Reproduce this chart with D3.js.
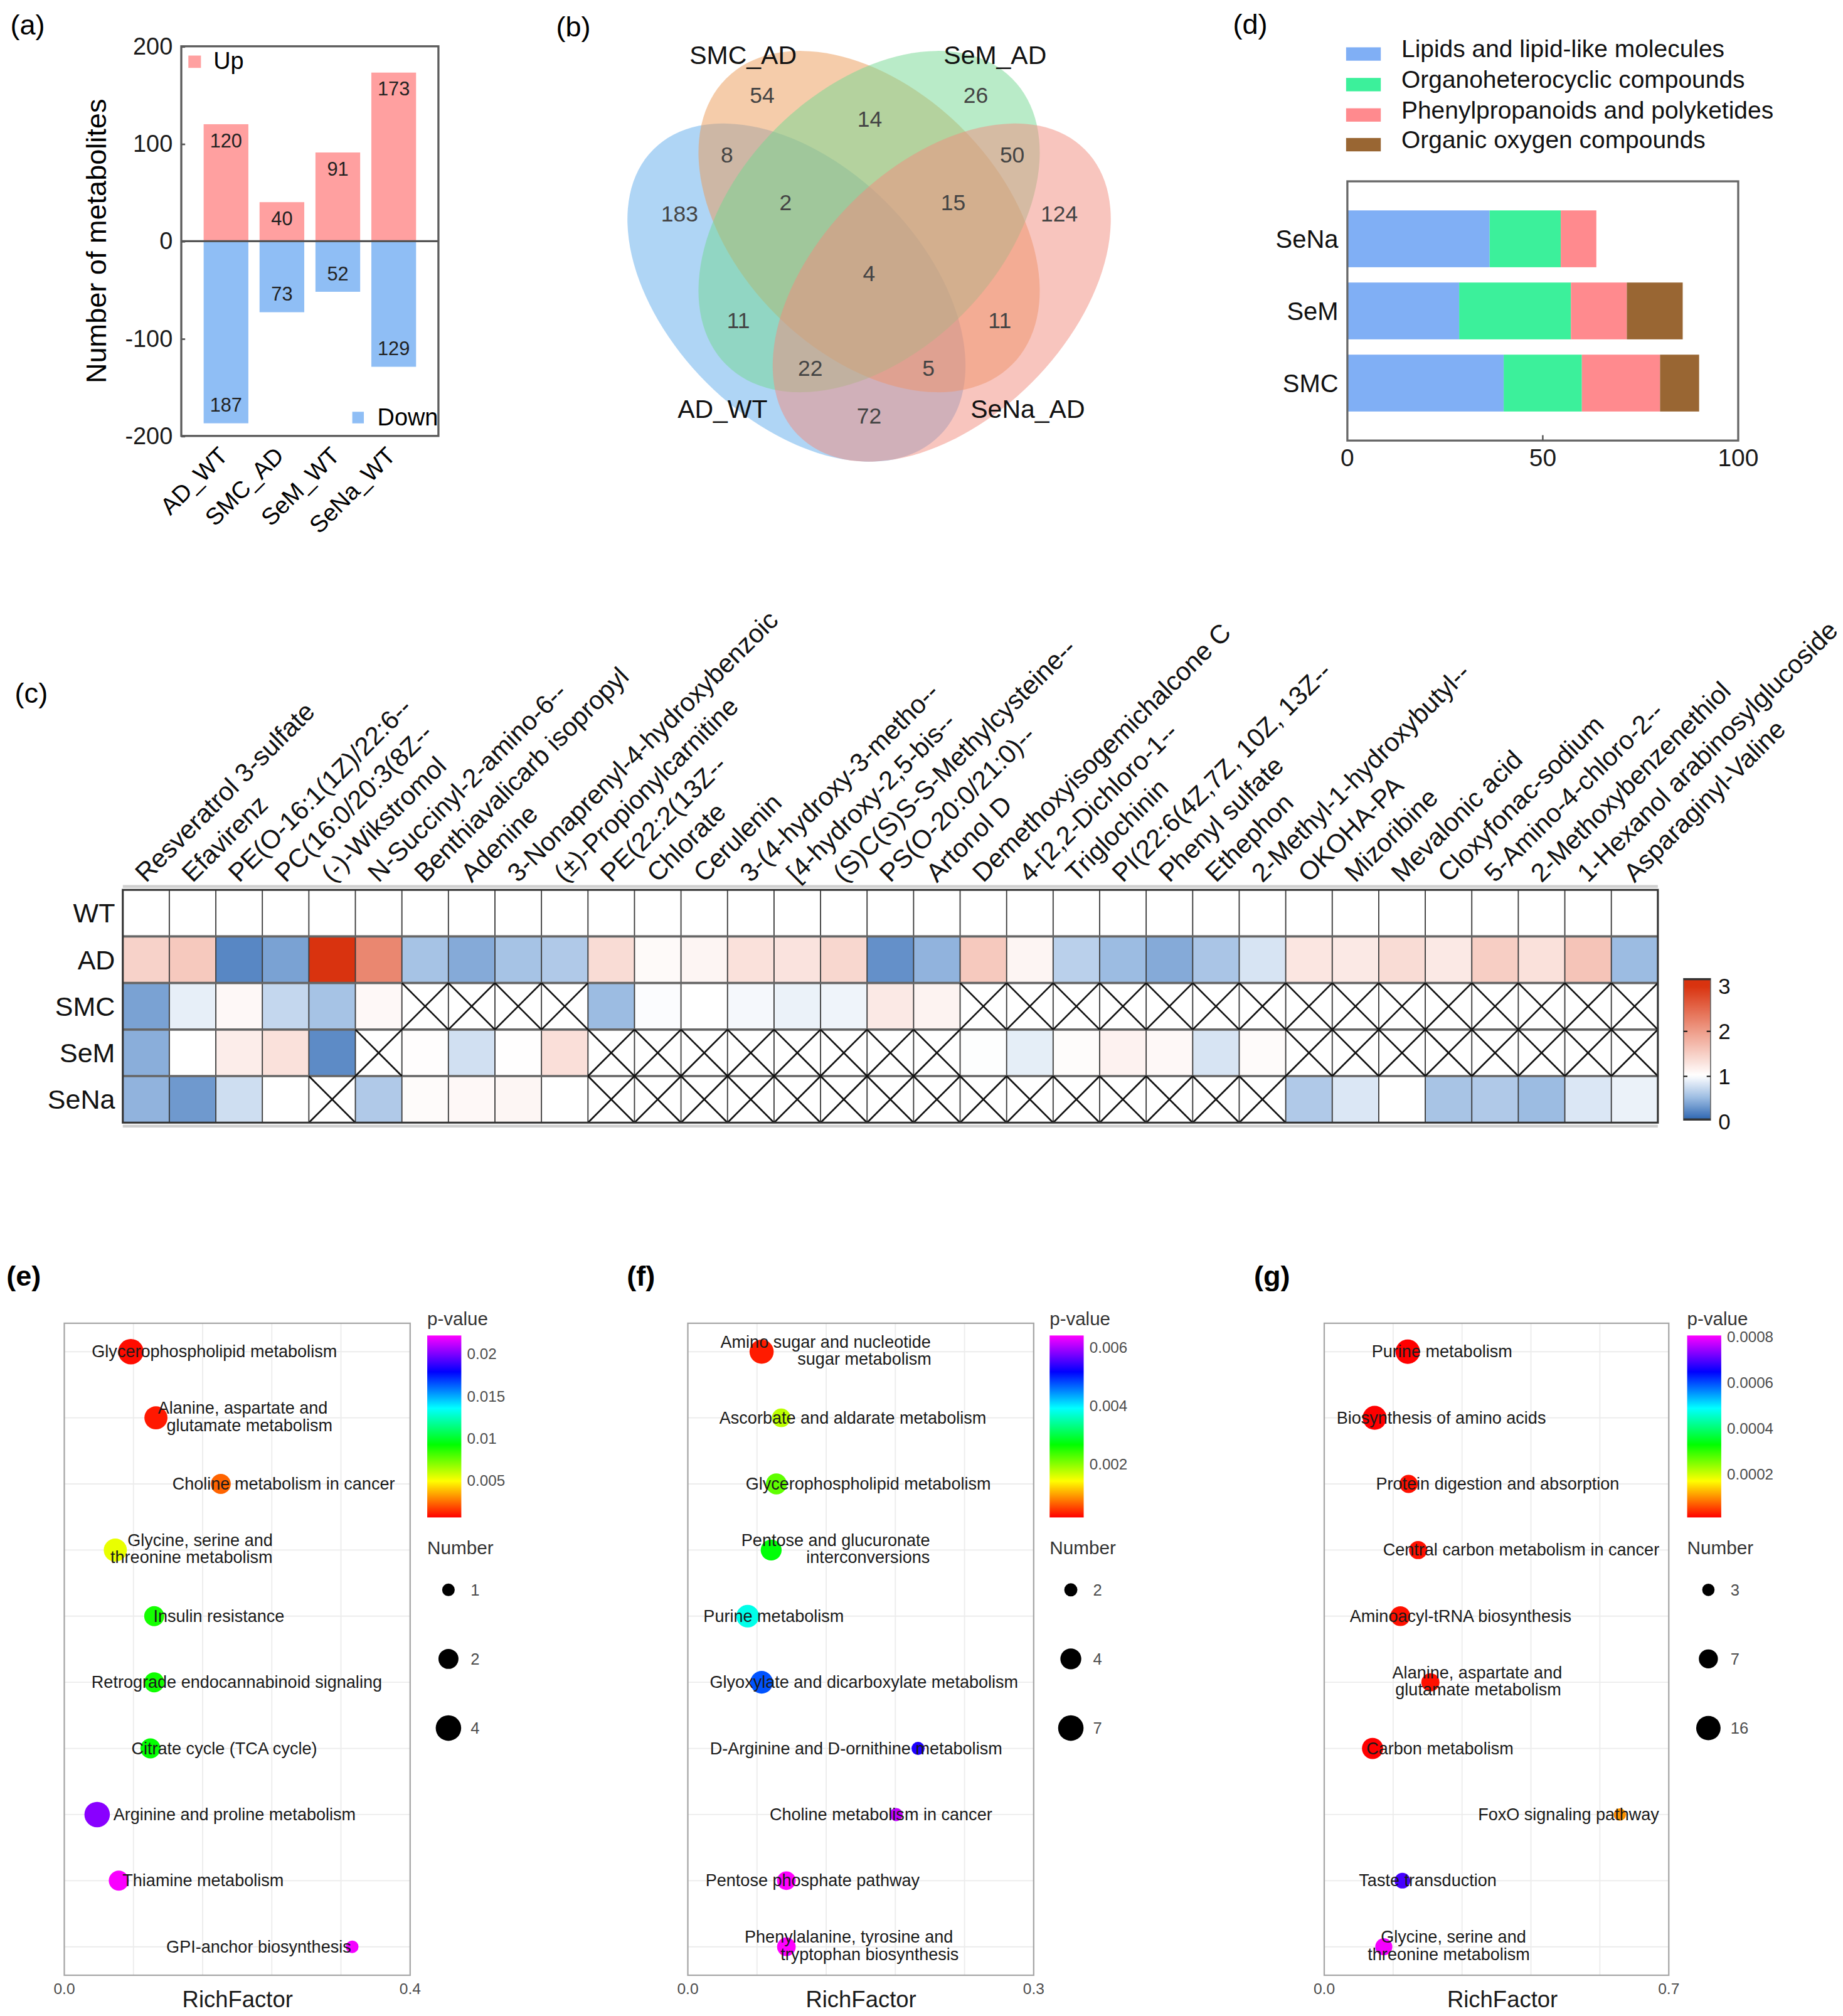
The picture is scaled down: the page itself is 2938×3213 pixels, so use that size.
<!DOCTYPE html>
<html><head><meta charset="utf-8">
<script src="https://cdn.jsdelivr.net/npm/d3@7"></script>
<style>
html,body{margin:0;padding:0;background:#fff;}
svg{display:block;}
text{font-family:"Liberation Sans",Arial,Helvetica,sans-serif;}
</style></head><body>
<svg id="fig" width="2938" height="3213" viewBox="0 0 1433.5 1567.7"></svg>
<script>
// ================= DATA =================
// (a) differential metabolites
const comparisons = ["AD_WT","SMC_AD","SeM_WT","SeNa_WT"];
const upCounts = [120,40,91,173];
const downCounts = [187,73,52,129];
const countTicks = [200,100,0,-100,-200];

// (b) Venn: A=AD_WT, B=SMC_AD, C=SeM_AD, D=SeNa_AD
const vennSets = ["AD_WT","SMC_AD","SeM_AD","SeNa_AD"];
const vennRegions = ["A","B","C","D","AB","BC","CD","AD","AC","BD","ABC","BCD","ACD","ABD","ABCD"];
const vennCounts = [183,54,26,124,8,14,50,72,11,11,2,15,22,5,4];

// (d) class composition (%)
const classGroups = ["SeNa","SeM","SMC"];
const classNames = ["Lipids and lipid-like molecules","Organoheterocyclic compounds","Phenylpropanoids and polyketides","Organic oxygen compounds"];
const lipidsPct = [36.4,28.6,40];
const organoPct = [18.2,28.6,20];
const phenylPct = [9.1,14.3,20];
const oxygenPct = [0,14.3,10];
const classTicks = [0,50,100];

// (c) heatmap
const metabolites = ["Resveratrol 3-sulfate","Efavirenz","PE(O-16:1(1Z)/22:6--","PC(16:0/20:3(8Z--","(-)-Wikstromol","N-Succinyl-2-amino-6--","Benthiavalicarb isopropyl","Adenine","3-Nonaprenyl-4-hydroxybenzoic","(±)-Propionylcarnitine","PE(22:2(13Z--","Chlorate","Cerulenin","3-(4-hydroxy-3-metho--","[4-hydroxy-2,5-bis--","(S)C(S)S-S-Methylcysteine--","PS(O-20:0/21:0)--","Artonol D","Demethoxyisogemichalcone C","4-[2,2-Dichloro-1--","Triglochinin","PI(22:6(4Z,7Z, 10Z, 13Z--","Phenyl sulfate","Ethephon","2-Methyl-1-hydroxybutyl--","OKOHA-PA","Mizoribine","Mevalonic acid","Cloxyfonac-sodium","5-Amino-4-chloro-2--","2-Methoxybenzenethiol","1-Hexanol arabinosylglucoside","Asparaginyl-Valine"];
const heatGroups = ["WT","AD","SMC","SeM","SeNa"];
const wtValues = [1,1,1,1,1,1,1,1,1,1,1,1,1,1,1,1,1,1,1,1,1,1,1,1,1,1,1,1,1,1,1,1,1];
const adValues = [1.45,1.55,0.2,0.35,3.0,2.2,0.55,0.4,0.55,0.6,1.35,1.05,1.1,1.3,1.28,1.4,0.25,0.45,1.55,1.1,0.65,0.5,0.4,0.57,0.8,1.25,1.22,1.35,1.22,1.5,1.3,1.6,0.5];
const smcValues = [0.35,0.88,1.07,0.7,0.55,1.07,null,null,null,null,0.5,0.98,1.0,0.95,0.9,0.92,1.22,1.12,null,null,null,null,null,null,null,null,null,null,null,null,null,null,null];
const semValues = [0.42,1.0,1.18,1.3,0.22,null,1.02,0.77,1.01,1.32,null,null,null,null,null,null,null,null,0.99,0.87,1.03,1.13,1.07,0.8,1.04,null,null,null,null,null,null,null,null];
const senaValues = [0.45,0.3,0.75,1.0,null,0.6,1.04,1.07,1.09,1.0,null,null,null,null,null,null,null,null,null,null,null,null,null,null,null,0.6,0.82,1.0,0.56,0.6,0.5,0.82,0.9];
const heatTicks = [0,1,2,3];

// (e) KEGG enrichment
const pathwaysE = ["Glycerophospholipid metabolism","Alanine, aspartate and\nglutamate metabolism","Choline metabolism in cancer","Glycine, serine and\nthreonine metabolism","Insulin resistance","Retrograde endocannabinoid signaling","Citrate cycle (TCA cycle)","Arginine and proline metabolism","Thiamine metabolism","GPI-anchor biosynthesis"];
const richE = [0.077,0.106,0.181,0.059,0.104,0.104,0.0996,0.038,0.063,0.333];
const pE = [0.0008,0.001,0.0023,0.0053,0.0089,0.009,0.0092,0.0202,0.0221,0.022];
const numE = [4,3,2,3,2,2,2,4,2,1];
const pTicksE = [0.005,0.01,0.015,0.02];
const numTicksE = [1,2,4];

// (f)
const pathwaysF = ["Amino sugar and nucleotide\nsugar metabolism","Ascorbate and aldarate metabolism","Glycerophospholipid metabolism","Pentose and glucuronate\ninterconversions","Purine metabolism","Glyoxylate and dicarboxylate metabolism","D-Arginine and D-ornithine metabolism","Choline metabolism in cancer","Pentose phosphate pathway","Phenylalanine, tyrosine and\ntryptophan biosynthesis"];
const richF = [0.064,0.081,0.0768,0.0723,0.0519,0.064,0.1997,0.1807,0.0855,0.0855];
const pF = [0.0003,0.00175,0.0022,0.0027,0.0038,0.00475,0.0053,0.0061,0.0064,0.0064];
const numF = [6,3,4,4,5,5,2,2,3,3];
const pTicksF = [0.002,0.004,0.006];
const numTicksF = [2,4,7];

// (g)
const pathwaysG = ["Purine metabolism","Biosynthesis of amino acids","Protein digestion and absorption","Central carbon metabolism in cancer","Aminoacyl-tRNA biosynthesis","Alanine, aspartate and\nglutamate metabolism","Carbon metabolism","FoxO signaling pathway","Taste transduction","Glycine, serine and\nthreonine metabolism"];
const richG = [0.1697,0.1024,0.1714,0.1907,0.1546,0.2157,0.0982,0.6005,0.1588,0.121];
const pG = [0.00001,0.00001,0.00002,0.00002,0.00002,0.00002,0.00001,0.0001,0.00069,0.0008];
const numG = [16,15,6,6,8,6,10,3,4,5];
const pTicksG = [0.0002,0.0004,0.0006,0.0008];
const numTicksG = [3,7,16];

// ================= STYLE / LAYOUT =================
const upColor = "#FFA0A0", downColor = "#8FBEF5";
const classColors = ["#80AFF5","#3CF09B","#FF8A8E","#996633"];
const vennShapes = [
  {cx:619.5, cy:227.5, rx:157.4, ry:99,  rot:45,  color:"#5FABEB"},
  {cx:676,   cy:172.3, rx:157.3, ry:102.4, rot:45, color:"#EB9955"},
  {cx:676,   cy:172.3, rx:157.3, ry:102.4, rot:-45, color:"#73D791"},
  {cx:732.5, cy:227.5, rx:157.4, ry:99,  rot:-45, color:"#F18B7D"}
];
const vennCountPos = {A:[528.6,166.2],B:[592.8,74.2],C:[759,74.2],D:[823.9,166.2],AB:[565.4,120.7],BC:[676.5,92.6],CD:[787.3,120.7],AD:[676,323.4],AC:[574.3,249.4],BD:[777.6,249.4],ABC:[611.1,157.4],BCD:[741.4,157.4],ACD:[630.3,286.4],ABD:[722.2,286.4],ABCD:[676,212.8]};
const vennSetLabelPos = [[562,318],[578,43],[774,43],[799.4,318]];

const svg = d3.select("#fig");
const defs = svg.append("defs");

function txt(g, s, x, y, o={}) {
  const t = g.append("text").attr("x",x).attr("y",y).text(s)
    .attr("font-size", o.size||14).attr("fill", o.fill||"#000")
    .attr("text-anchor", o.anchor||"start")
    .attr("dominant-baseline", o.baseline||"central");
  if (o.weight) t.attr("font-weight", o.weight);
  if (o.transform) t.attr("transform", o.transform);
  return t;
}

// panel letters
txt(svg,"(a)",8,19.5,{size:22});
txt(svg,"(b)",432.5,20.5,{size:22});
txt(svg,"(d)",959,19,{size:22});
txt(svg,"(c)",11.5,539,{size:22});
txt(svg,"(e)",5,992,{size:22,weight:"bold"});
txt(svg,"(f)",487.5,992,{size:22,weight:"bold"});
txt(svg,"(g)",975.3,992,{size:22,weight:"bold"});

// ================= (a) =================
(function(){
  const g = svg.append("g");
  const x = d3.scaleBand().domain(comparisons).range([141,341]).paddingInner(0.2).paddingOuter(0.4);
  const y = d3.scaleLinear().domain([-200,200]).range([339,36]);
  g.selectAll("rect.up").data(comparisons).join("rect").attr("class","up")
    .attr("x",d=>x(d)).attr("width",x.bandwidth())
    .attr("y",(d,i)=>y(upCounts[i])).attr("height",(d,i)=>y(0)-y(upCounts[i]))
    .attr("fill",upColor);
  g.selectAll("rect.down").data(comparisons).join("rect").attr("class","down")
    .attr("x",d=>x(d)).attr("width",x.bandwidth())
    .attr("y",y(0)).attr("height",(d,i)=>y(-downCounts[i])-y(0))
    .attr("fill",downColor);
  comparisons.forEach((d,i)=>{
    const cx = x(d)+x.bandwidth()/2;
    txt(g,String(upCounts[i]),cx,y(upCounts[i])+12.8,{size:15,anchor:"middle",fill:"#222"});
    txt(g,String(downCounts[i]),cx,y(-downCounts[i])-14,{size:15,anchor:"middle",fill:"#222"});
  });
  g.append("line").attr("x1",141).attr("x2",341).attr("y1",y(0)).attr("y2",y(0))
    .attr("stroke","#555").attr("stroke-width",1.6);
  const ax = g.append("g").attr("transform","translate(141,0)")
    .call(d3.axisLeft(y).tickValues(countTicks).tickSize(-3).tickPadding(6.7).tickFormat(d=>String(d)));
  ax.select(".domain").remove();
  ax.selectAll("line").attr("stroke","#555").attr("stroke-width",1.3);
  ax.selectAll("text").attr("font-size",18.5).attr("fill","#1a1a1a").attr("font-family",null);
  g.append("rect").attr("x",141).attr("y",36).attr("width",200).attr("height",303)
    .attr("fill","none").attr("stroke","#5a5a5a").attr("stroke-width",1.6);
  txt(g,"Number of metabolites",0,0,{size:22,anchor:"middle",baseline:"alphabetic",transform:"translate(82.5,187.5) rotate(-90)"});
  comparisons.forEach(d=>{
    txt(g,d,0,0,{size:18.5,anchor:"end",transform:`translate(${x(d)+x.bandwidth()/2-2},${351}) rotate(-45)`});
  });
  // legend
  g.append("rect").attr("x",146.5).attr("y",43.2).attr("width",9.8).attr("height",9.6).attr("fill",upColor);
  txt(g,"Up",166,53.8,{size:18.5,baseline:"alphabetic"});
  g.append("rect").attr("x",274).attr("y",320.2).attr("width",9).attr("height",9).attr("fill",downColor);
  txt(g,"Down",293.5,331,{size:18.5,baseline:"alphabetic"});
})();

// ================= (b) =================
(function(){
  const g = svg.append("g");
  g.selectAll("ellipse").data(vennShapes).join("ellipse")
    .attr("cx",d=>d.cx).attr("cy",d=>d.cy).attr("rx",d=>d.rx).attr("ry",d=>d.ry)
    .attr("transform",d=>`rotate(${d.rot} ${d.cx} ${d.cy})`)
    .attr("fill",d=>d.color).attr("fill-opacity",0.5).attr("stroke","none");
  vennRegions.forEach((r,i)=>{
    const p = vennCountPos[r];
    txt(g,String(vennCounts[i]),p[0],p[1],{size:17.3,anchor:"middle",fill:"#444"});
  });
  vennSets.forEach((s,i)=>{
    const p = vennSetLabelPos[i];
    txt(g,s,p[0],p[1],{size:20,anchor:"middle",fill:"#111"});
  });
})();

// ================= (d) =================
(function(){
  const g = svg.append("g");
  const rows = classGroups.map((c,i)=>({group:c,
    [classNames[0]]:lipidsPct[i],[classNames[1]]:organoPct[i],[classNames[2]]:phenylPct[i],[classNames[3]]:oxygenPct[i]}));
  const stack = d3.stack().keys(classNames)(rows);
  const x = d3.scaleLinear().domain([0,100]).range([1048,1352]);
  const y = d3.scaleBand().domain(classGroups).range([141,342.6]).paddingInner(0.212).paddingOuter(0.403);
  stack.forEach((layer,k)=>{
    g.selectAll(null).data(layer).join("rect")
      .attr("x",d=>x(d[0])).attr("width",d=>x(d[1])-x(d[0]))
      .attr("y",d=>y(d.data.group)).attr("height",y.bandwidth())
      .attr("fill",classColors[k]);
  });
  g.append("rect").attr("x",1048).attr("y",141).attr("width",304).attr("height",201.6)
    .attr("fill","none").attr("stroke","#666").attr("stroke-width",1.6);
  classTicks.forEach(t=>{
    txt(g,String(t),x(t),356,{size:19,anchor:"middle",fill:"#1a1a1a"});
    if (t>0 && t<100) g.append("line").attr("x1",x(t)).attr("x2",x(t)).attr("y1",342.6).attr("y2",338.4).attr("stroke","#555").attr("stroke-width",1.2);
  });
  classGroups.forEach(c=>txt(g,c,1041,y(c)+y.bandwidth()/2,{size:19.5,anchor:"end",fill:"#111"}));
  const ly = [38,61.8,85.4,108.5];
  classNames.forEach((n,k)=>{
    g.append("rect").attr("x",1047).attr("y",ly[k]-1.2).attr("width",27).attr("height",10.4).attr("fill",classColors[k]);
    txt(g,n,1090,ly[k],{size:19,fill:"#111"});
  });
})();

// ================= (c) =================
const heatColor = d3.scaleLinear().domain([0,0.5,1,2,3])
  .range(["#2B64B0","#9CBCE2","#FFFFFF","#EE9C88","#D9330F"]).clamp(true);
(function(){
  const g = svg.append("g");
  const hx = d3.scaleBand().domain(metabolites).range([95.5,1289.5]);
  const hy = d3.scaleBand().domain(heatGroups).range([692,873]);
  const heatRows = [wtValues,adValues,smcValues,semValues,senaValues];
  const cells = heatGroups.flatMap((gr,ri)=>metabolites.map((m,ci)=>({gr,m,v:heatRows[ri][ci]})));
  g.selectAll("rect.cell").data(cells).join("rect")
    .attr("x",d=>hx(d.m)).attr("y",d=>hy(d.gr)).attr("width",hx.bandwidth()).attr("height",hy.bandwidth())
    .attr("fill",d=>d.v==null?"#fff":heatColor(d.v));
  metabolites.slice(1).forEach(m=>{
    g.append("line").attr("x1",hx(m)).attr("x2",hx(m)).attr("y1",692).attr("y2",873).attr("stroke","#3c3c3c").attr("stroke-width",0.9);
  });
  heatGroups.slice(1).forEach(gr=>{
    g.append("line").attr("x1",95.5).attr("x2",1289.5).attr("y1",hy(gr)).attr("y2",hy(gr)).attr("stroke","#666").attr("stroke-width",1.8);
  });
  const nulls = cells.filter(d=>d.v==null);
  nulls.forEach(d=>{
    const x0=hx(d.m), x1=x0+hx.bandwidth(), y0=hy(d.gr), y1=y0+hy.bandwidth();
    g.append("line").attr("x1",x0).attr("y1",y0).attr("x2",x1).attr("y2",y1).attr("stroke","#111").attr("stroke-width",1.3);
    g.append("line").attr("x1",x0).attr("y1",y1).attr("x2",x1).attr("y2",y0).attr("stroke","#111").attr("stroke-width",1.3);
  });
  g.append("line").attr("x1",95.5).attr("x2",1289.5).attr("y1",689.3).attr("y2",689.3).attr("stroke","#cfcfcf").attr("stroke-width",2.2);
  g.append("line").attr("x1",95.5).attr("x2",1289.5).attr("y1",875.7).attr("y2",875.7).attr("stroke","#cfcfcf").attr("stroke-width",2.2);
  g.append("rect").attr("x",95.5).attr("y",692).attr("width",1194).attr("height",181)
    .attr("fill","none").attr("stroke","#333").attr("stroke-width",1.5);
  heatGroups.forEach(gr=>txt(g,gr,89.5,hy(gr)+hy.bandwidth()/2,{size:21,anchor:"end",fill:"#111"}));
  metabolites.forEach(m=>{
    txt(g,m,0,0,{size:20.3,baseline:"alphabetic",fill:"#111",transform:`translate(${hx(m)+hx.bandwidth()/2},687) rotate(-45)`});
  });
  // colour bar
  const cy = d3.scaleLinear().domain([0,3]).range([872,767]);
  const vTop = cy.invert(761);
  const grad = defs.append("linearGradient").attr("id","heatGrad").attr("x1",0).attr("y1",1).attr("x2",0).attr("y2",0);
  d3.range(0,1.0001,0.02).forEach(t=>grad.append("stop").attr("offset",t).attr("stop-color",heatColor(t*vTop)));
  g.append("rect").attr("x",1309.5).attr("y",761).attr("width",21).attr("height",110)
    .attr("fill","url(#heatGrad)").attr("stroke","#666").attr("stroke-width",0.8);
  g.append("line").attr("x1",1309.5).attr("x2",1330.5).attr("y1",761.5).attr("y2",761.5).attr("stroke","#333").attr("stroke-width",1.6);
  g.append("line").attr("x1",1309.5).attr("x2",1330.5).attr("y1",870.5).attr("y2",870.5).attr("stroke","#333").attr("stroke-width",1.6);
  heatTicks.forEach(t=>{
    txt(g,String(t),1336.5,cy(t),{size:17,fill:"#111"});
    if (t>0 && t<3) {
      g.append("line").attr("x1",1327.5).attr("x2",1330.5).attr("y1",cy(t)).attr("y2",cy(t)).attr("stroke","#111").attr("stroke-width",1);
      g.append("line").attr("x1",1309.5).attr("x2",1312.5).attr("y1",cy(t)).attr("y2",cy(t)).attr("stroke","#111").attr("stroke-width",1);
    }
  });
})();

// ================= (e)(f)(g) =================
const rainbow = d3.scaleLinear().domain([0,0.2,0.4,0.6,0.8,1])
  .range(["#FF0000","#FFFF00","#00FF00","#00FFFF","#0000FF","#FF00FF"]).clamp(true);

function bubblePanel(cfg){
  const g = svg.append("g");
  const x = d3.scaleLinear().domain(cfg.xDomain).range(cfg.xRange);
  const y = d3.scalePoint().domain(cfg.paths).range([1029,1536]).padding(0.43);
  const pT = d3.scaleLinear().domain(cfg.pDomain).range([0,1]);
  const r = v => cfg.rRange[0] + Math.sqrt((v-cfg.nDomain[0])/(cfg.nDomain[1]-cfg.nDomain[0]))*(cfg.rRange[1]-cfg.rRange[0]);
  g.append("rect").attr("x",cfg.xRange[0]).attr("y",1029).attr("width",cfg.xRange[1]-cfg.xRange[0]).attr("height",507).attr("fill","#fff");
  [0.2,0.4,0.6,0.8].forEach(f=>{
    const xv = cfg.xRange[0]+f*(cfg.xRange[1]-cfg.xRange[0]);
    g.append("line").attr("x1",xv).attr("x2",xv).attr("y1",1029).attr("y2",1536).attr("stroke","#ececec").attr("stroke-width",0.9);
  });
  cfg.paths.forEach(p=>{
    g.append("line").attr("x1",cfg.xRange[0]).attr("x2",cfg.xRange[1]).attr("y1",y(p)).attr("y2",y(p)).attr("stroke","#ececec").attr("stroke-width",0.9);
  });
  g.append("rect").attr("x",cfg.xRange[0]).attr("y",1029).attr("width",cfg.xRange[1]-cfg.xRange[0]).attr("height",507)
    .attr("fill","none").attr("stroke","#a6a6a6").attr("stroke-width",1.1);
  g.selectAll("circle.pt").data(cfg.paths).join("circle")
    .attr("cx",(d,i)=>x(cfg.rich[i])).attr("cy",d=>y(d))
    .attr("r",(d,i)=>r(cfg.num[i])).attr("fill",(d,i)=>rainbow(pT(cfg.p[i])));
  cfg.paths.forEach((p,i)=>{
    const lines = p.split("\n");
    const offs = lines.length===1?[0]:[-7.6,5.8];
    lines.forEach((ln,j)=>{
      txt(g,ln,x(cfg.rich[i])+cfg.labelDx[i][j],y(p)+offs[j],{size:13.2,fill:"#1a1a1a"});
    });
  });
  txt(g,cfg.xTickLabels[0],cfg.xRange[0],1546.6,{size:12,anchor:"middle",fill:"#4d4d4d"});
  txt(g,cfg.xTickLabels[1],cfg.xRange[1],1546.6,{size:12,anchor:"middle",fill:"#4d4d4d"});
  txt(g,"RichFactor",cfg.titleX,1555,{size:17.8,anchor:"middle",fill:"#1a1a1a"});
  // colour bar
  const bx = cfg.barX, by0 = 1038.5, by1 = 1180;
  const id = "rb"+cfg.id;
  const grad = defs.append("linearGradient").attr("id",id).attr("x1",0).attr("y1",1).attr("x2",0).attr("y2",0);
  d3.range(0,1.0001,0.05).forEach(t=>grad.append("stop").attr("offset",t).attr("stop-color",rainbow(t)));
  g.append("rect").attr("x",bx).attr("y",by0).attr("width",26.5).attr("height",by1-by0).attr("fill",`url(#${id})`);
  const py = d3.scaleLinear().domain(cfg.pDomain).range([by1,by0]);
  txt(g,"p-value",bx,1025.5,{size:14.4,fill:"#333"});
  cfg.pTicks.forEach(t=>txt(g,String(t),bx+31,py(t),{size:11.8,fill:"#4d4d4d"}));
  txt(g,"Number",bx,1203.5,{size:14.5,fill:"#333"});
  const ly = [1236.3,1290,1343.8];
  cfg.nTicks.forEach((n,k)=>{
    g.append("circle").attr("cx",bx+16.5).attr("cy",ly[k]).attr("r",r(n)).attr("fill","#000");
    txt(g,String(n),bx+33.8,ly[k],{size:12.5,fill:"#4d4d4d"});
  });
}

bubblePanel({id:"E",paths:pathwaysE,rich:richE,p:pE,num:numE,xDomain:[0,0.4],xRange:[50,319],
  pDomain:[0.0006,0.0222],nDomain:[1,4],rRange:[4.9,9.9],pTicks:pTicksE,nTicks:numTicksE,
  xTickLabels:["0.0","0.4"],titleX:184.8,barX:332.3,
  labelDx:[[-30.4],[1.5,8.2],[-37.7],[9.5,-3.8],[-0.7],[-48.8],[-14.8],[12.6],[2.9],[-144.6]]});
bubblePanel({id:"F",paths:pathwaysF,rich:richF,p:pF,num:numF,xDomain:[0,0.3],xRange:[535,804],
  pDomain:[0.00017,0.0064],nDomain:[2,7],rRange:[5.1,9.9],pTicks:pTicksF,nTicks:numTicksF,
  xTickLabels:["0.0","0.3"],titleX:669.7,barX:816.4,
  labelDx:[[-32,27.9],[-48.1],[-23.9],[-23.2,27.3],[-34.4],[-40.3],[-161.9],[-98.4],[-62.9],[-32.5,-4.6]]});
bubblePanel({id:"G",paths:pathwaysG,rich:richG,p:pG,num:numG,xDomain:[0,0.7],xRange:[1030,1298],
  pDomain:[0.00001,0.000806],nDomain:[3,16],rRange:[4.8,9.5],pTicks:pTicksG,nTicks:numTicksG,
  xTickLabels:["0.0","0.7"],titleX:1168.6,barX:1312.3,
  labelDx:[[-28],[-29.6],[-25.4],[-27.3],[-39.3],[-29.6,-27.3],[-4.8],[-110.3],[-33.8],[-2.3,-12.5]]});
</script>
</body></html>
